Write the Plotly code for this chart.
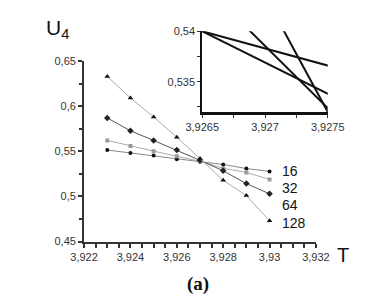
import plotly.graph_objects as go

# ---- data ----
T = [3.923, 3.924, 3.925, 3.926, 3.927, 3.928, 3.929, 3.930]
U16 = [0.5514, 0.5480, 0.5454, 0.5412, 0.5385, 0.5354, 0.5309, 0.5277]
U32 = [0.5620, 0.5560, 0.5500, 0.5444, 0.5390, 0.5312, 0.5266, 0.5188]
U64 = [0.5870, 0.5727, 0.5620, 0.5514, 0.5400, 0.5284, 0.5142, 0.5029]
U128 = [0.6330, 0.6090, 0.5880, 0.5656, 0.5420, 0.5178, 0.5010, 0.4730]
sizes = ["16", "32", "64", "128"]

# inset: linear fits near the crossing
T_fit = [3.926, 3.928]
F16 = [0.5417, 0.5349]
F32 = [0.5431, 0.5307]
F64 = [0.5509, 0.5262]
F128 = [0.5665, 0.5205]

FONT = "Liberation Sans, Arial, sans-serif"

fig = go.Figure()

styles = [
    (U16, dict(symbol="circle", size=4, color="#111"), "#888"),
    (U32, dict(symbol="square", size=4, color="#9a9a9a"), "#aaa"),
    (U64, dict(symbol="diamond", size=5, color="#222"), "#555"),
    (U128, dict(symbol="triangle-up", size=5, color="#111"), "#aaa"),
]
for (vals, mk, lc) in styles:
    fig.add_trace(go.Scatter(x=T, y=vals, mode="lines+markers",
                             line=dict(color=lc, width=1), marker=mk,
                             xaxis="x", yaxis="y", showlegend=False))

for vals in [F16, F32, F64, F128]:
    fig.add_trace(go.Scatter(x=T_fit, y=vals, mode="lines",
                             line=dict(color="#111", width=2),
                             xaxis="x2", yaxis="y2", showlegend=False))

# series labels at the line ends
label_y = [0.5285, 0.5095, 0.4905, 0.4700]
for s, yv in zip(sizes, label_y):
    fig.add_annotation(x=3.93045, y=yv, xref="x", yref="y", text=s,
                       showarrow=False, xanchor="left", yanchor="middle",
                       font=dict(family=FONT, size=14, color="#111"))

fig.add_annotation(x=21 / 374, y=1 - 16 / 301, xref="paper", yref="paper",
                   text="U<sub>4</sub>", showarrow=False, xanchor="left",
                   yanchor="middle", font=dict(family=FONT, size=21, color="#111"))
fig.add_annotation(x=350 / 374, y=1 - 251 / 301, xref="paper", yref="paper",
                   text="T", showarrow=False, xanchor="center",
                   yanchor="middle", font=dict(family=FONT, size=20, color="#111"))
fig.add_annotation(x=190 / 374, y=1 - 281 / 301, xref="paper", yref="paper",
                   text="<b>(a)</b>", showarrow=False, xanchor="center",
                   yanchor="middle",
                   font=dict(family="Liberation Serif, DejaVu Serif, serif",
                             size=19, color="#111"))

fig.update_layout(
    width=374, height=301,
    margin=dict(l=0, r=0, t=0, b=0),
    paper_bgcolor="white", plot_bgcolor="rgba(0,0,0,0)",
    separators=", ",
    font=dict(family=FONT, size=11, color="#333"),
    xaxis=dict(domain=[65 / 374, 320 / 374], range=[3.922, 3.932],
               dtick=0.002, tick0=3.922, showgrid=False, zeroline=False,
               showline=True, linecolor="#333", linewidth=2,
               ticks="outside", ticklen=4, tickcolor="#333", tickwidth=1.5,
               minor=dict(dtick=0.0005, ticks="outside", ticklen=4,
                          tickcolor="#333", tickwidth=1.5, showgrid=False),
               tickfont=dict(size=11, color="#333")),
    yaxis=dict(domain=[64 / 301, 252 / 301], range=[0.45, 0.65],
               dtick=0.05, tick0=0.45, showgrid=False, zeroline=False,
               showline=True, linecolor="#333", linewidth=2,
               ticks="outside", ticklen=4, tickcolor="#333", tickwidth=1.5,
               minor=dict(dtick=0.025, ticks="outside", ticklen=3,
                          tickcolor="#333", tickwidth=1.5, showgrid=False),
               tickfont=dict(size=11, color="#333")),
    xaxis2=dict(domain=[195 / 374, 333 / 374], range=[3.9265, 3.9275],
                anchor="y2", dtick=0.0005, tick0=3.9265, showgrid=False,
                zeroline=False, showline=True, linecolor="#111", linewidth=3,
                ticks="outside", ticklen=3, tickcolor="#333",
                minor=dict(dtick=0.00025, ticks="outside", ticklen=3,
                           tickcolor="#333", showgrid=False),
                tickfont=dict(size=11, color="#333")),
    yaxis2=dict(domain=[199 / 301, 283 / 301], range=[0.532, 0.54],
                anchor="x2", dtick=0.005, tick0=0.535, showgrid=False,
                zeroline=False, showline=True, linecolor="#111", linewidth=2,
                ticks="outside", ticklen=3, tickcolor="#333",
                minor=dict(dtick=0.0025, ticks="outside", ticklen=3,
                           tickcolor="#333", showgrid=False),
                tickfont=dict(size=11, color="#333")),
)

fig.write_html("out.html")
